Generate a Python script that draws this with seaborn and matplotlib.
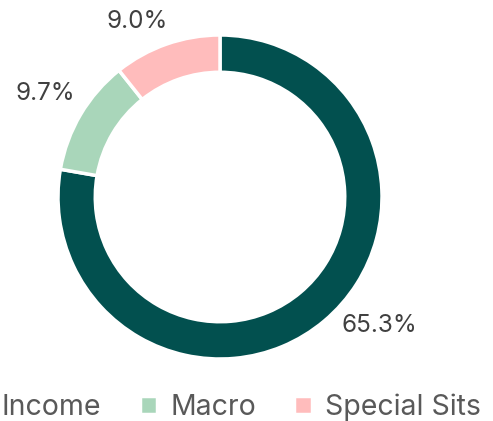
import numpy as np
import seaborn as sns
import matplotlib.pyplot as plt

# valores del gráfico (porcentajes mostrados)
categorias = ["Income", "Macro", "Special Sits"]
valores = [65.3, 9.7, 9.0]
etiquetas = ["65.3%", "9.7%", "9.0%"]
colores = ["#02504f", "#a9d6ba", "#ffbcbc"]

sns.set_style("white")
plt.rcParams["font.family"] = ["Inter", "DejaVu Sans"]

fig = plt.figure(figsize=(4.93, 4.21), dpi=100)
W, H = 493, 421
cx, cy, R = 220, 421 - 197, 162
lim = 1.3
ax = fig.add_axes([(cx - R * lim) / W, (cy - R * lim) / H, 2 * R * lim / W, 2 * R * lim / H])

wedges, textos = ax.pie(valores, colors=colores, startangle=90, counterclock=False,
                        labels=etiquetas, labeldistance=1.24,
                        wedgeprops=dict(width=0.23, edgecolor="white", linewidth=2.5),
                        textprops=dict(fontsize=17.5, color="#404040"))
# ajuste de la posición de las etiquetas (desplazamiento angular y distancia)
desplaz = [11, 0, 6]
dist = [1.265, 1.25, 1.2]
for w, t, d, r in zip(wedges, textos, desplaz, dist):
    ang = np.deg2rad((w.theta1 + w.theta2) / 2 + d)
    t.set_position((r * np.cos(ang), r * np.sin(ang)))
    t.set_ha("center")
    t.set_va("center")

ax.set_xlim(-lim, lim)
ax.set_ylim(-lim, lim)
ax.set_aspect("equal")
ax.axis("off")

fig.legend(wedges, categorias, loc="center", bbox_to_anchor=(226 / W, 14 / H),
           ncol=3, frameon=False, fontsize=20.5, labelcolor="#595959",
           handlelength=0.62, handleheight=0.62, handletextpad=0.45, columnspacing=1.35)

plt.savefig("out.png", dpi=100)
